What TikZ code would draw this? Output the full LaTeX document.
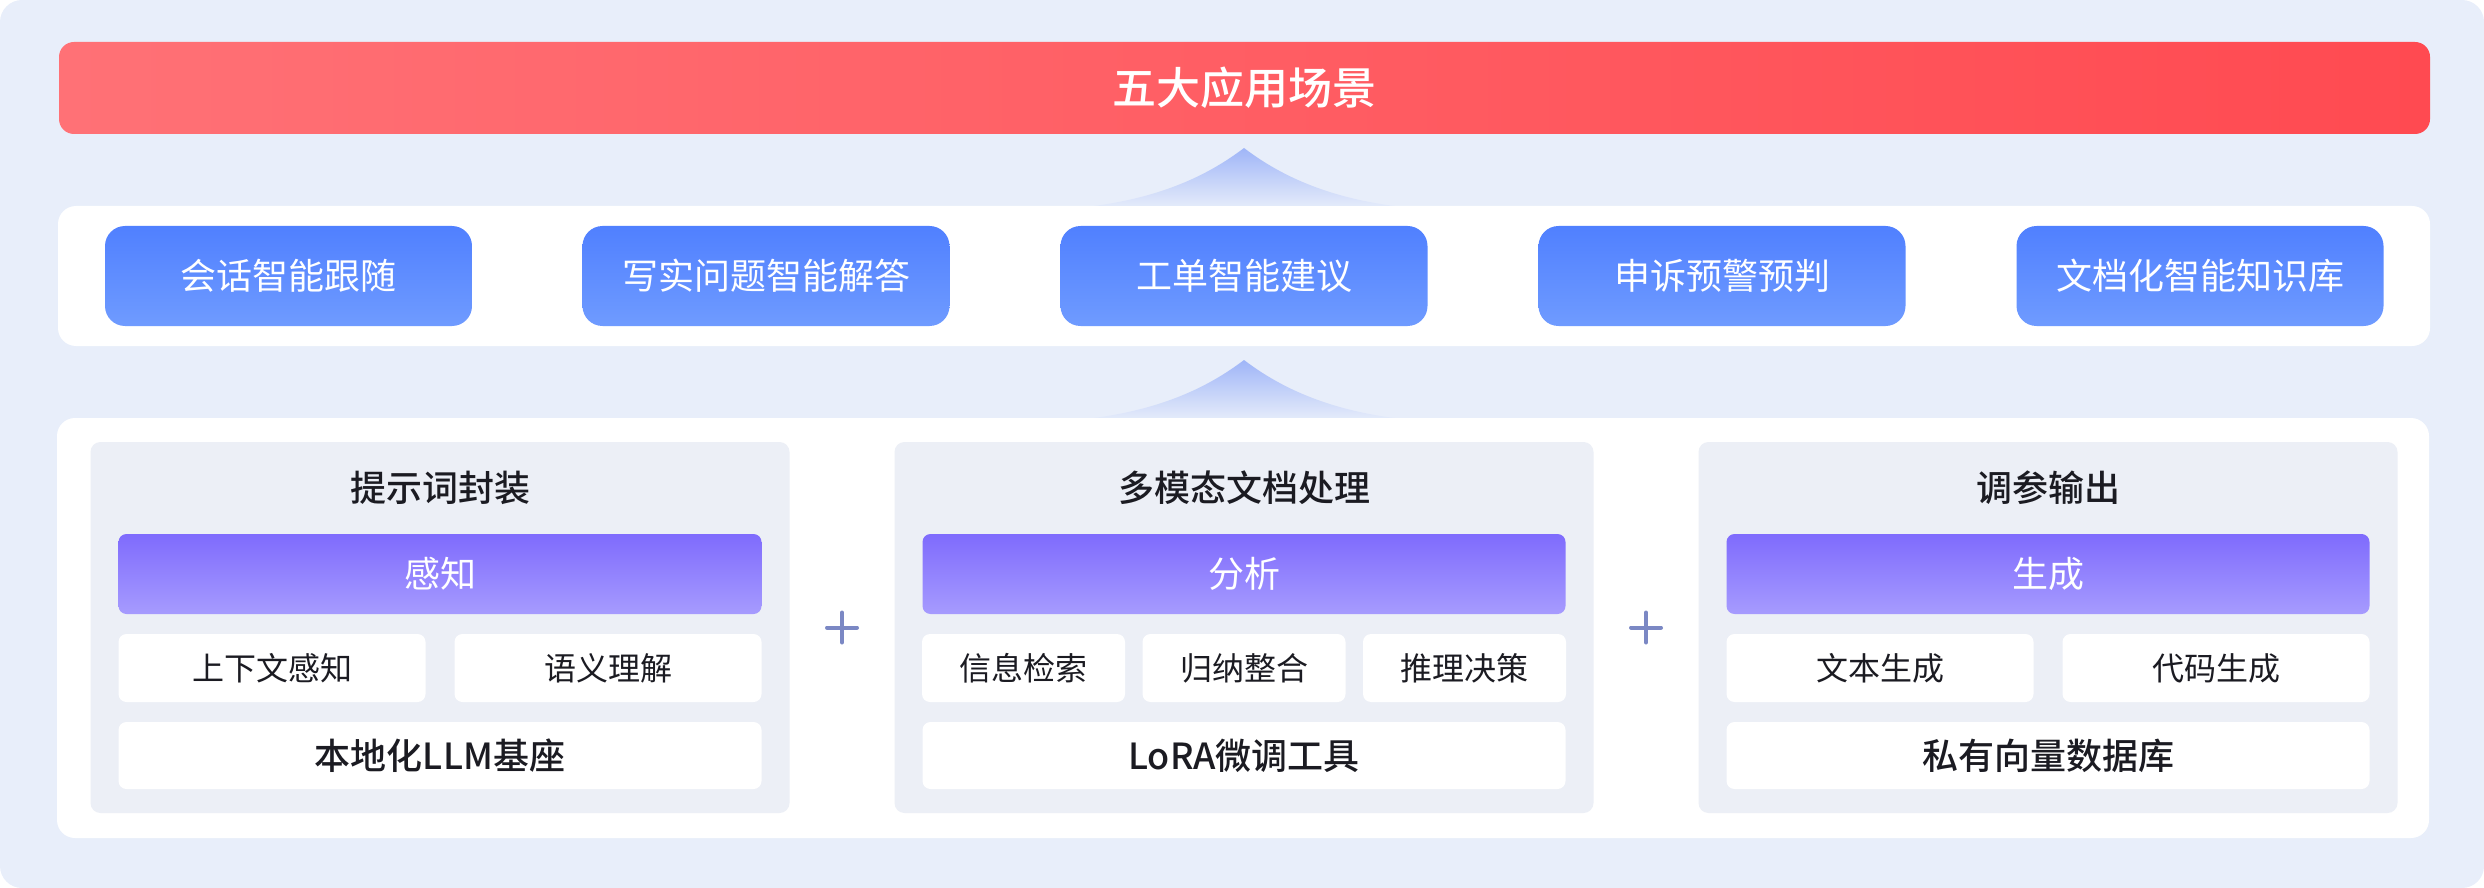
\documentclass[tikz,border=0pt]{standalone}
\usepackage{fontspec}
\setmainfont{Noto Sans CJK SC}[BoldFont={Noto Sans CJK SC Medium}]
\usetikzlibrary{positioning,calc}
\definecolor{bgblue}{HTML}{E8EEFA}
\definecolor{redL}{HTML}{FF7176}
\definecolor{redR}{HTML}{FF4A51}
\definecolor{blueT}{HTML}{5080FF}
\definecolor{blueB}{HTML}{6F9BFF}
\definecolor{purT}{HTML}{7F6BFD}
\definecolor{purB}{HTML}{A69BFE}
\definecolor{panelgray}{HTML}{ECEFF6}
\definecolor{chev}{HTML}{9FB5F8}
\definecolor{plusc}{HTML}{7B88C4}
\definecolor{ink}{HTML}{1B1B22}
\tikzset{
  px/.style 2 args={minimum width=#1*0.25pt, minimum height=#2*0.25pt, inner sep=0pt},
  titlebar/.style={rounded corners=3.75pt, left color=redL, right color=redR, text=white, font=\fontsize{11}{13}\selectfont\bfseries},
  scene/.style={rounded corners=5pt, top color=blueT, bottom color=blueB, text=white, font=\fontsize{9}{11}\selectfont},
  layer/.style={rounded corners=4.5pt, fill=white},
  group/.style={rounded corners=2.5pt, fill=panelgray},
  grouptitle/.style={text=ink, font=\fontsize{9}{11}\selectfont\bfseries},
  head/.style={rounded corners=2pt, top color=purT, bottom color=purB, text=white, font=\fontsize{9}{11}\selectfont},
  item/.style={rounded corners=2pt, fill=white, text=ink, font=\fontsize{8}{10}\selectfont},
  base/.style={rounded corners=2pt, fill=white, text=ink, font=\fontsize{9}{11}\selectfont\bfseries},
}
\begin{document}
\begin{tikzpicture}[x=0.25pt, y=-0.25pt, line cap=round]
	\useasboundingbox (0,0) rectangle (2484,888);
	\fill[bgblue, rounded corners=5.5pt] (0,0) rectangle (2484,888);
	% top bar and scene row
	\node[titlebar, px={2371}{92}] (top) at (1244.5,88) {五大应用场景};
	\node[layer, px={2372}{140}] (scenes) at (1244,276) {};
	\foreach \x/\t [count=\i] in {288.5/会话智能跟随, 766/写实问题智能解答, 1244/工单智能建议, 1722/申诉预警预判, 2200/文档化智能知识库}
		\node[scene, px={367}{100}] (s\i) at (\x,276) {\t};
	% upward chevrons
	\foreach \py/\by in {148/206, 360/418}
		\shade[top color=chev, bottom color=bgblue!94!chev] (1094,\by) .. controls (1170,\by-10) and (1215,\py+22) .. (1244,\py) .. controls (1273,\py+22) and (1318,\by-10) .. (1394,\by) -- cycle;
	% lower stack
	\node[layer, px={2372}{420}] (stack) at (1243,628) {};
	\foreach \x/\t/\h/\b [count=\i] in {440/提示词封装/感知/本地化LLM基座, 1244/多模态文档处理/分析/LoRA微调工具, 2048/调参输出/生成/私有向量数据库} {
		\node[group, px={699}{371}] (g\i) at (\x,627.5) {};
		\node[grouptitle] (t\i) at (\x,488) {\t};
		\node[head, px={643}{80}] (h\i) at (\x,574) {\h};
		\node[base, px={643}{67}] (b\i) at (\x,755.5) {\b};
	}
	\foreach \x/\w/\t [count=\i] in {272/307/上下文感知, 608/307/语义理解, 1023.5/203/信息检索, 1244/203/归纳整合, 1464.5/203/推理决策, 1880/307/文本生成, 2216/307/代码生成}
		\node[item, px={\w}{68}] (i\i) at (\x,668) {\t};
	% plus signs
	\coordinate (p1) at ($(g1.east)!.5!(g2.west)$);
	\coordinate (p2) at ($(g2.east)!.5!(g3.west)$);
	\foreach \p in {p1,p2}
		\draw[plusc, line width=1pt] ($(\p)+(-15,0)$) -- ($(\p)+(15,0)$) ($(\p)+(0,-15)$) -- ($(\p)+(0,15)$);
\end{tikzpicture}
\end{document}
